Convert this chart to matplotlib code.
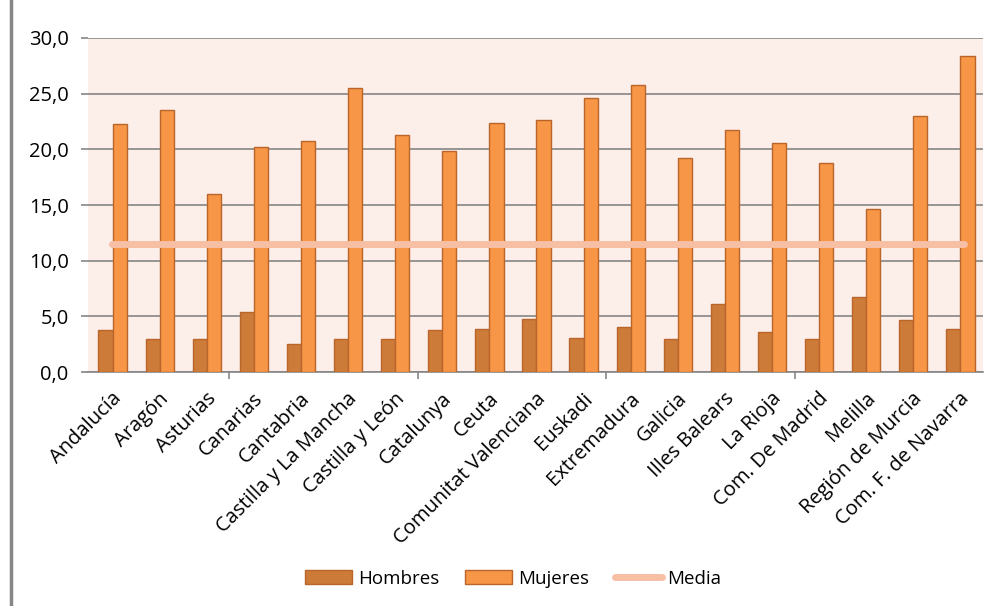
import matplotlib.pyplot as plt
import numpy as np
from matplotlib.lines import Line2D

# ---------- Datos ----------
comunidades = ["Andalucía", "Aragón", "Asturias", "Canarias", "Cantabria",
               "Castilla y La Mancha", "Castilla y León", "Catalunya", "Ceuta",
               "Comunitat Valenciana", "Euskadi", "Extremadura", "Galicia",
               "Illes Balears", "La Rioja", "Com. De Madrid", "Melilla",
               "Región de Murcia", "Com. F. de Navarra"]
hombres = [3.75, 3.0, 2.95, 5.35, 2.5, 3.0, 3.0, 3.75, 3.85, 4.75, 3.1, 4.0,
           2.95, 6.1, 3.6, 3.0, 6.7, 4.65, 3.85]
mujeres = [22.3, 23.5, 16.0, 20.2, 20.75, 25.5, 21.3, 19.85, 22.35, 22.6, 24.6,
           25.8, 19.2, 21.7, 20.55, 18.75, 14.6, 22.95, 28.35]
media = 11.5

# ---------- Estilo ----------
plt.rcParams['font.family'] = ['Open Sans', 'DejaVu Sans']
cor_h = '#CD7B38'
cor_m = '#F79646'
cor_borda = '#B9652B'
cor_media = '#F7BFA4'
cinza = '#868686'

fig = plt.figure(figsize=(9.97, 6.06), dpi=100)
ax = fig.add_axes([0.0883, 0.3861, 0.8977, 0.5512])
ax.set_facecolor('#FCEEE9')

x = np.arange(len(comunidades))
w = 0.3
ax.bar(x - w / 2 + 0.02, hombres, w, color=cor_h, edgecolor=cor_borda, linewidth=1, label='Hombres', zorder=3)
ax.bar(x + w / 2 + 0.02, mujeres, w, color=cor_m, edgecolor=cor_borda, linewidth=1, label='Mujeres', zorder=3)
ax.plot([x[0], x[-1] + 0.1], [media, media], color=cor_media, linewidth=5, solid_capstyle='round',
        label='Media', zorder=4)

ax.set_xlim(-0.5, len(comunidades) - 0.5)
ax.set_ylim(0, 30)
ax.set_yticks(np.arange(0, 31, 5))
ax.set_yticklabels([f"{v:.1f}".replace('.', ',') for v in np.arange(0, 31, 5)], fontsize=14.5)
ax.yaxis.grid(True, color=cinza, linewidth=1.2, zorder=1)
ax.tick_params(axis='y', length=5, color=cinza, width=1.2, pad=9)

# rótulos das categorias
ax.set_xticks(x)
ax.set_xticklabels(comunidades, rotation=45, ha='right', rotation_mode='anchor', fontsize=14.5)
ax.tick_params(axis='x', which='major', length=0, pad=12)
ax.set_xticks([2.5, 6.5, 10.5, 14.5], minor=True)
ax.tick_params(axis='x', which='minor', length=5, color=cinza, width=1.2)

for lado in ['left', 'right', 'top']:
    ax.spines[lado].set_visible(False)
ax.spines['bottom'].set_color(cinza)
ax.spines['bottom'].set_linewidth(1.2)

h, l = ax.get_legend_handles_labels()
ordem = [l.index('Hombres'), l.index('Mujeres'), l.index('Media')]
fig.legend([h[i] for i in ordem], [l[i] for i in ordem], loc='center',
           bbox_to_anchor=(0.515, 0.045), ncol=3, frameon=False,
           fontsize=13.5, handlelength=2.5, handleheight=0.75, columnspacing=1.4,
           handletextpad=0.3)

# borda esquerda do gráfico
fig.add_artist(Line2D([0.011, 0.011], [0, 1], color=cinza, linewidth=2.5, transform=fig.transFigure))

fig.savefig('out.png', dpi=100)
